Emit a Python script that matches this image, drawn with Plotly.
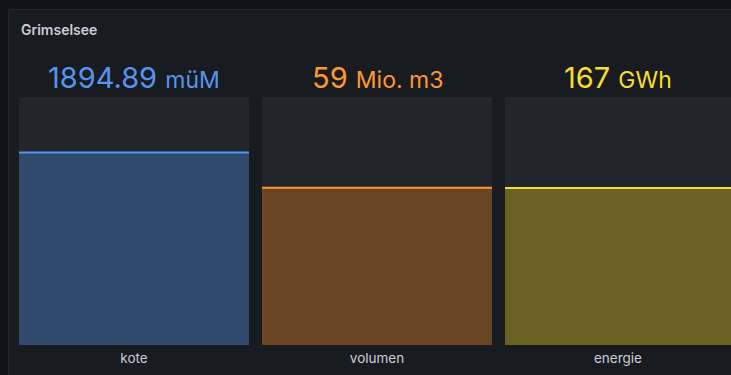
import plotly.graph_objects as go

# Bar gauge panel "Grimselsee"
panel_title = "Grimselsee"
fields = ["kote", "volumen", "energie"]
values = [1894.89, 59, 167]
value_text = ["1894.89", "59", "167"]
units = ["müM", "Mio. m3", "GWh"]
gauge_min = [1846, 0, 0]
gauge_max = [1909, 93, 264]

line_colors = ["#5794f2", "#ff9830", "#fade2a"]
fill_colors = ["#2f4a6d", "#6a4624", "#6a6222"]

W, H = 731, 375
BG_OUTER = "#111217"
BG_PANEL = "#181b1f"
TRACK = "#22252b"
TEXT = "#ccccdc"

# pixel layout of the three gauges
x_px = [(19, 249), (262, 492), (505, 735)]
y_top_px, y_bot_px = 97, 345


def px_x(v):
    return min(max(v / W, 0.0), 1.0)


def px_y(v):
    return (H - v) / H


fig = go.Figure()
layout = dict(
    width=W,
    height=H,
    margin=dict(l=0, r=0, t=0, b=0),
    paper_bgcolor=BG_OUTER,
    plot_bgcolor="rgba(0,0,0,0)",
    barmode="overlay",
    showlegend=False,
    font=dict(family="Inter, Roboto, sans-serif", color=TEXT),
)

shapes = [
    # panel card
    dict(type="rect", xref="paper", yref="paper",
         x0=px_x(8.5), x1=1.02, y0=-0.05, y1=px_y(9.5),
         fillcolor=BG_PANEL, line=dict(color="#24272d", width=1), layer="below"),
]
annotations = [
    dict(text=panel_title, xref="paper", yref="paper",
         x=px_x(19), y=px_y(30), xanchor="left", yanchor="middle",
         showarrow=False, font=dict(size=14, color=TEXT, family="Inter, sans-serif", weight=600)),
]

for i, name in enumerate(fields):
    ax = "" if i == 0 else str(i + 1)
    xa, ya = "x" + ax, "y" + ax
    lo, hi = gauge_min[i], gauge_max[i]
    # empty track
    fig.add_trace(go.Bar(x=[name], y=[hi - lo], base=[lo], width=[1],
                         marker=dict(color=TRACK, line=dict(width=0)),
                         xaxis=xa, yaxis=ya, hoverinfo="skip"))
    # filled value
    fig.add_trace(go.Bar(x=[name], y=[values[i] - lo], base=[lo], width=[1],
                         marker=dict(color=fill_colors[i], line=dict(width=0)),
                         xaxis=xa, yaxis=ya, name=name))
    # bright edge on top of the fill
    shapes.append(dict(type="line", xref=xa + " domain", yref=ya,
                       x0=0, x1=1, y0=values[i], y1=values[i],
                       line=dict(color=line_colors[i], width=2)))
    x0, x1 = x_px[i]
    layout["xaxis" + ax] = dict(
        domain=[px_x(x0), px_x(x1)], anchor=ya, range=[-0.5, 0.5],
        showgrid=False, zeroline=False, showline=False, ticks="",
        ticklabelstandoff=3,
        tickfont=dict(size=13.5, color=TEXT), fixedrange=True,
    )
    layout["yaxis" + ax] = dict(
        domain=[px_y(y_bot_px), px_y(y_top_px)], anchor=xa, range=[lo, hi],
        visible=False, fixedrange=True,
    )
    annotations.append(dict(
        text=f"{value_text[i]} <span style='font-size:23px'>{units[i]}</span>",
        xref=xa + " domain", yref="paper", x=0.5, y=px_y(77),
        xanchor="center", yanchor="middle", showarrow=False,
        font=dict(size=29, color=line_colors[i]),
    ))

layout["shapes"] = shapes
layout["annotations"] = annotations
fig.update_layout(**layout)
fig.write_html("out.html")
